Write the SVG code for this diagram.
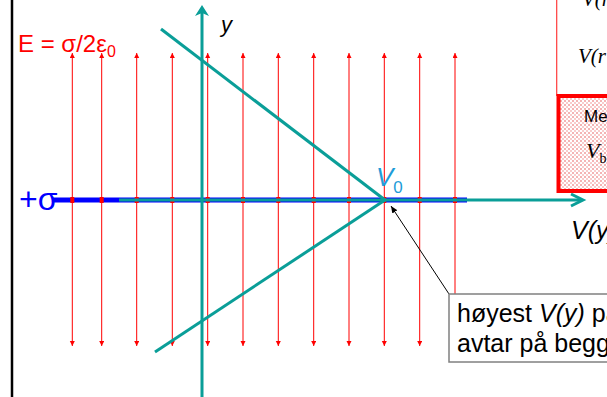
<svg xmlns="http://www.w3.org/2000/svg" width="607" height="397" viewBox="0 0 607 397">
<defs>
<style>
.field{stroke:#ff0000;stroke-width:1;fill:none;marker-start:url(#redTip);marker-end:url(#redTip)}
.tick{stroke:#ff0000;stroke-width:6}
.teal{stroke:#0a9e98;stroke-width:3;fill:none}
.sans{font-family:"Liberation Sans",Arial,sans-serif}
.serif{font-family:"Liberation Serif","Times New Roman",serif}
</style>
<marker id="redTip" markerUnits="userSpaceOnUse" markerWidth="6" markerHeight="6" refX="5" refY="2.5" orient="auto-start-reverse">
<path d="M0,0 L5,2.5 L0,5 Z" fill="#ff0000"/>
</marker>
<marker id="blackTip" markerUnits="userSpaceOnUse" markerWidth="8" markerHeight="8" refX="7" refY="3" orient="auto">
<path d="M0,0 L7,3 L0,6 Z" fill="#000"/>
</marker>
<pattern id="pinkDots" width="4" height="4" patternUnits="userSpaceOnUse">
<rect width="4" height="4" fill="#ffffff"/>
<rect width="2" height="2" fill="#f4b4b4"/>
<rect x="2" y="2" width="2" height="2" fill="#f8cccc"/>
</pattern>
</defs>

<rect width="607" height="397" fill="#ffffff"/>

<g id="border">
<line x1="12" y1="0" x2="12" y2="397" stroke="#000" stroke-width="2.5"/>
</g>

<g id="connectors">
<g id="field-lines">
<line class="field" x1="72.3" y1="53" x2="72.3" y2="346"/>
<line class="field" x1="101.7" y1="53" x2="101.7" y2="346"/>
<line class="field" x1="136.7" y1="53" x2="136.7" y2="346"/>
<line class="field" x1="172.3" y1="53" x2="172.3" y2="346"/>
<line class="field" x1="207.7" y1="53" x2="207.7" y2="346"/>
<line class="field" x1="243" y1="53" x2="243" y2="346"/>
<line class="field" x1="278.3" y1="53" x2="278.3" y2="346"/>
<line class="field" x1="313.7" y1="53" x2="313.7" y2="346"/>
<line class="field" x1="349" y1="53" x2="349" y2="346"/>
<line class="field" x1="384.3" y1="53" x2="384.3" y2="346"/>
<line class="field" x1="419.7" y1="53" x2="419.7" y2="346"/>
<line class="field" x1="455" y1="53" x2="455" y2="346"/>
</g>

<g id="sheet">
<line x1="53" y1="200" x2="467" y2="200" stroke="#0000ff" stroke-width="5"/>
</g>

<g id="ticks">
<line class="tick" x1="70.3" y1="200" x2="74.3" y2="200"/>
<line class="tick" x1="99.7" y1="200" x2="103.7" y2="200"/>
<line class="tick" x1="134.7" y1="200" x2="138.7" y2="200"/>
<line class="tick" x1="170.3" y1="200" x2="174.3" y2="200"/>
<line class="tick" x1="205.7" y1="200" x2="209.7" y2="200"/>
<line class="tick" x1="241" y1="200" x2="245" y2="200"/>
<line class="tick" x1="276.3" y1="200" x2="280.3" y2="200"/>
<line class="tick" x1="311.7" y1="200" x2="315.7" y2="200"/>
<line class="tick" x1="347" y1="200" x2="351" y2="200"/>
<line class="tick" x1="382.3" y1="200" x2="386.3" y2="200"/>
<line class="tick" x1="417.7" y1="200" x2="421.7" y2="200"/>
<line class="tick" x1="453" y1="200" x2="457" y2="200"/>
</g>

<g id="potential">
<line class="teal" x1="161" y1="29" x2="385" y2="200"/>
<line class="teal" x1="155" y1="352" x2="385" y2="200"/>
</g>

<g id="axes">
<line class="teal" x1="119" y1="200" x2="582" y2="200"/>
<polyline class="teal" points="571,194 583,200 571,206"/>
<line class="teal" x1="202" y1="397" x2="202" y2="12"/>
<path d="M202,5 L209,16 L202,13 L195,16 Z" fill="#0a9e98"/>
</g>

<g id="callout-pointer">
<line x1="449" y1="294" x2="391" y2="206" stroke="#000" stroke-width="1" marker-end="url(#blackTip)"/>
</g>
</g>

<g id="label-E">
<text class="sans" x="18" y="51.5" font-size="24" fill="#ff0000">E = σ/2ε<tspan font-size="16" dy="5.5">0</tspan></text>
</g>

<g id="label-sigma">
<text class="sans" x="19" y="210" font-size="32" fill="#0000ff">+σ</text>
</g>

<g id="label-y">
<text class="sans" x="221" y="32" font-size="22" font-style="italic" fill="#000">y</text>
</g>

<g id="label-V0">
<text class="sans" x="376" y="186" font-size="26" font-style="italic" fill="#1e9cd8">V<tspan font-style="normal" font-size="17" dy="7">0</tspan></text>
</g>

<g id="label-Vy">
<text class="sans" x="571" y="239" font-size="25" font-style="italic" fill="#000">V(y)</text>
</g>

<g id="callout">
<rect x="449" y="294" width="170" height="68" fill="#ffffff" stroke="#808080" stroke-width="1.5"/>
<text class="sans" x="457" y="322" font-size="25" fill="#000">høyest <tspan font-style="italic">V(y)</tspan> på</text>
<text class="sans" x="457" y="352" font-size="25" fill="#000">avtar på begg</text>
</g>

<g id="panel">
<line x1="556.7" y1="0" x2="556.7" y2="96" stroke="#ff3b3b" stroke-width="1.2"/>
<text class="serif" x="582" y="6" font-size="21" font-style="italic" fill="#000">V(r</text>
<text class="serif" x="578" y="63" font-size="21" font-style="italic" fill="#000">V(r⃗</text>
</g>

<g id="red-box">
<rect x="558.5" y="96" width="60" height="95" fill="url(#pinkDots)" stroke="#ff0000" stroke-width="4"/>
<text class="sans" x="584" y="122" font-size="17" fill="#000">Me</text>
<text class="serif" x="586" y="158" font-size="22" font-style="italic" fill="#000">V<tspan font-style="normal" font-size="14" dy="5">b</tspan></text>
</g>
</svg>
